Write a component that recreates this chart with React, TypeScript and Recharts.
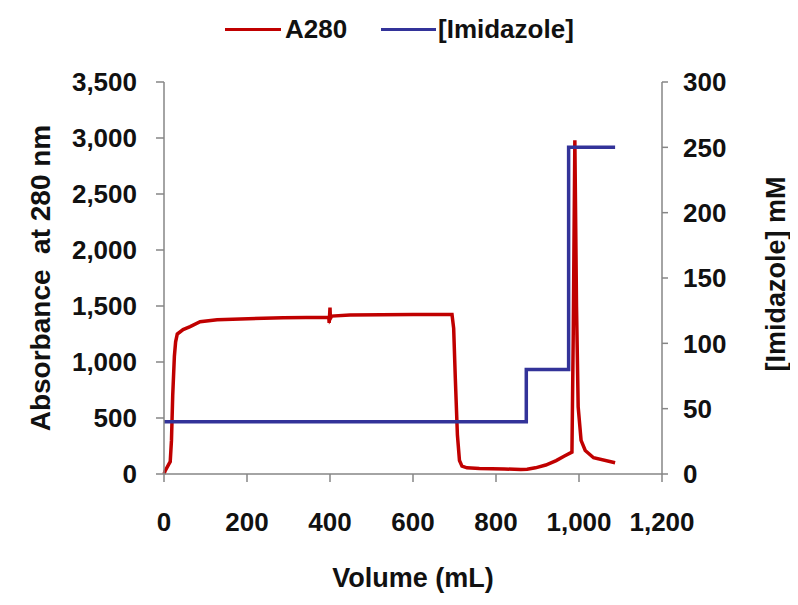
import { Label, Line, LineChart, XAxis, YAxis } from "recharts";

// A280 trace (volume in mL, absorbance)
const a280Volume = [
  0, 3, 12, 15, 18, 21, 25, 28, 32, 46, 63, 87, 128, 287, 397, 398, 400, 401,
  404, 448, 600, 694, 698, 702, 707, 712, 718, 730, 760, 820, 860, 875, 895,
  920, 945, 965, 983, 986, 990, 994, 998, 1005, 1015, 1035, 1087,
];
const a280Values = [
  0, 30, 90, 110, 300, 700, 1050, 1180, 1250, 1290, 1316, 1360, 1378, 1396,
  1400, 1350, 1485, 1390, 1410, 1420, 1423, 1423, 1300, 850, 350, 120, 70, 55,
  50, 45, 40, 42, 55, 80, 120, 160, 195, 1200, 2980, 1500, 600, 300, 210, 145,
  100,
];

// imidazole step gradient (volume in mL, mM)
const imidVolume = [0, 873, 873, 975, 975, 1087];
const imidValues = [40, 40, 80, 80, 250, 250];

const xTicks = [0, 200, 400, 600, 800, 1000, 1200];
const leftTicks = [0, 500, 1000, 1500, 2000, 2500, 3000, 3500];
const rightTicks = [0, 50, 100, 150, 200, 250, 300];

const a280Data = a280Volume.map((v, i) => ({ volume: v, a280: a280Values[i] }));
const imidData = imidVolume.map((v, i) => ({ volume: v, imid: imidValues[i] }));

const RED = "#C00000";
const BLUE = "#333399";
const AXIS = "#868686";
const FONT = "'Liberation Sans', Arial, sans-serif";

const fmt = (v: number) => v.toLocaleString("en-US");

const tickStyle = { fontFamily: FONT, fontSize: 26, fontWeight: 700, fill: "#111" };

export default function App() {
  return (
    <div style={{ position: "relative", width: 790, height: 597, fontFamily: FONT }}>
      {/* legend */}
      <div
        style={{
          position: "absolute",
          top: 4,
          left: 0,
          width: 790,
          height: 36,
          fontSize: 26,
          fontWeight: 700,
          color: "#111",
        }}
      >
        <div style={{ position: "absolute", left: 217, top: 16, width: 56, height: 3, background: RED }} />
        <span style={{ position: "absolute", left: 277, top: 0, lineHeight: "34px" }}>A280</span>
        <div style={{ position: "absolute", left: 373, top: 16, width: 55, height: 3, background: BLUE }} />
        <span style={{ position: "absolute", left: 430, top: 0, lineHeight: "34px" }}>[Imidazole]</span>
      </div>
      <LineChart
        width={790}
        height={597}
        margin={{ top: 74, right: 36, left: 56, bottom: 71 }}
      >
        <XAxis
          dataKey="volume"
          type="number"
          domain={[0, 1200]}
          ticks={xTicks}
          tickFormatter={fmt}
          allowDuplicatedCategory={false}
          height={60}
          tickSize={8}
          tickMargin={31}
          stroke={AXIS}
          strokeWidth={1.5}
          tick={tickStyle}
          interval={0}
        >
          <Label
            value="Volume (mL)"
            position="center"
            dy={73}
            style={{ ...tickStyle, fontSize: 27 }}
          />
        </XAxis>
        <YAxis
          yAxisId="left"
          domain={[0, 3500]}
          ticks={leftTicks}
          tickFormatter={fmt}
          width={100}
          tickSize={8}
          tickMargin={19}
          stroke={AXIS}
          strokeWidth={1.5}
          tick={tickStyle}
          interval={0}
        >
          <Label
            value={"Absorbance\u00a0\u00a0at 280 nm"}
            angle={-90}
            position="center"
            dx={-74}
            style={{ ...tickStyle, fontSize: 28 }}
          />
        </YAxis>
        <YAxis
          yAxisId="right"
          orientation="right"
          domain={[0, 300]}
          ticks={rightTicks}
          width={100}
          tickSize={6}
          tickMargin={15}
          stroke={AXIS}
          strokeWidth={1.5}
          tick={tickStyle}
          interval={0}
        >
          <Label
            value="[Imidazole] mM"
            angle={-90}
            position="center"
            dx={63}
            dy={-4}
            style={{ ...tickStyle, fontSize: 27 }}
          />
        </YAxis>
        <Line
          yAxisId="left"
          data={a280Data}
          dataKey="a280"
          type="linear"
          stroke={RED}
          strokeWidth={3.5}
          dot={false}
          isAnimationActive={false}
        />
        <Line
          yAxisId="right"
          data={imidData}
          dataKey="imid"
          type="linear"
          stroke={BLUE}
          strokeWidth={3.5}
          dot={false}
          isAnimationActive={false}
        />
      </LineChart>
    </div>
  );
}
